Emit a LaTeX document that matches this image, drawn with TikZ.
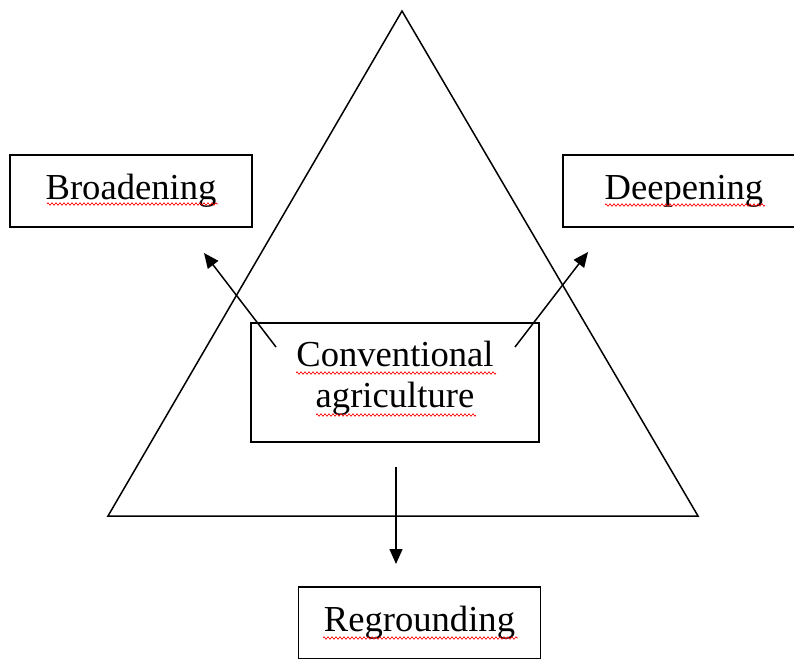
\documentclass[tikz,border=0pt]{standalone}
\usepackage{fontspec}
\setmainfont{Liberation Serif}
\usetikzlibrary{arrows.meta,decorations.pathmorphing}
\begin{document}
\begin{tikzpicture}[x=1pt,y=-1pt,
  outline/.style={draw=black,line width=1.5pt,line join=miter},
  boxnode/.style={draw=black,line width=1.5pt,minimum width=242pt,minimum height=72pt,inner sep=0pt,font=\fontsize{36.6pt}{41pt}\selectfont,align=center},
  connector/.style={draw=black,line width=1.5pt,-{Triangle[length=15pt,width=13pt]}},
  spell/.style={draw=red,line width=0.6pt,decorate,decoration={zigzag,segment length=4pt,amplitude=1.3pt}}]
\useasboundingbox (0,0) rectangle (794,658);
\clip (0,0) rectangle (794,658);
\fill[white] (0,0) rectangle (794,658);
% triangle
\coordinate (apex) at (402,11);
\coordinate (bl) at (108,516);
\coordinate (br) at (698,516);
\draw[outline] (bl) -- (apex) -- (br) -- cycle;
% boxes
\node[boxnode] (broad) at (131,191) {\raisebox{2pt}{Broadening}};
\node[boxnode] (deep) at (684,191) {\raisebox{2pt}{Deepening}};
\node[boxnode,minimum width=288pt,minimum height=119pt,fill=white] (conv) at (395,382.5) {Conventional\\agriculture\rule[-17pt]{0pt}{17pt}};
\node[boxnode] (regr) at (419.5,623) {\raisebox{5pt}{Regrounding}};
% spell-check underlines
\draw[spell] (47,204) -- (218,204);
\draw[spell] (605,205) -- (765,205);
\draw[spell] (296,373) -- (496,373);
\draw[spell] (316,415) -- (476,415);
\draw[spell] (323,638) -- (518,638);
% arrows
\coordinate (ls) at (276,347);
\coordinate (le) at (204,253);
\coordinate (rs) at (515,347);
\coordinate (re) at (588,252);
\coordinate (ds) at (396,467);
\coordinate (de) at (396,564);
\draw[connector] (ls) -- (le);
\draw[connector] (rs) -- (re);
\draw[connector] (ds) -- (de);
\end{tikzpicture}
\end{document}
